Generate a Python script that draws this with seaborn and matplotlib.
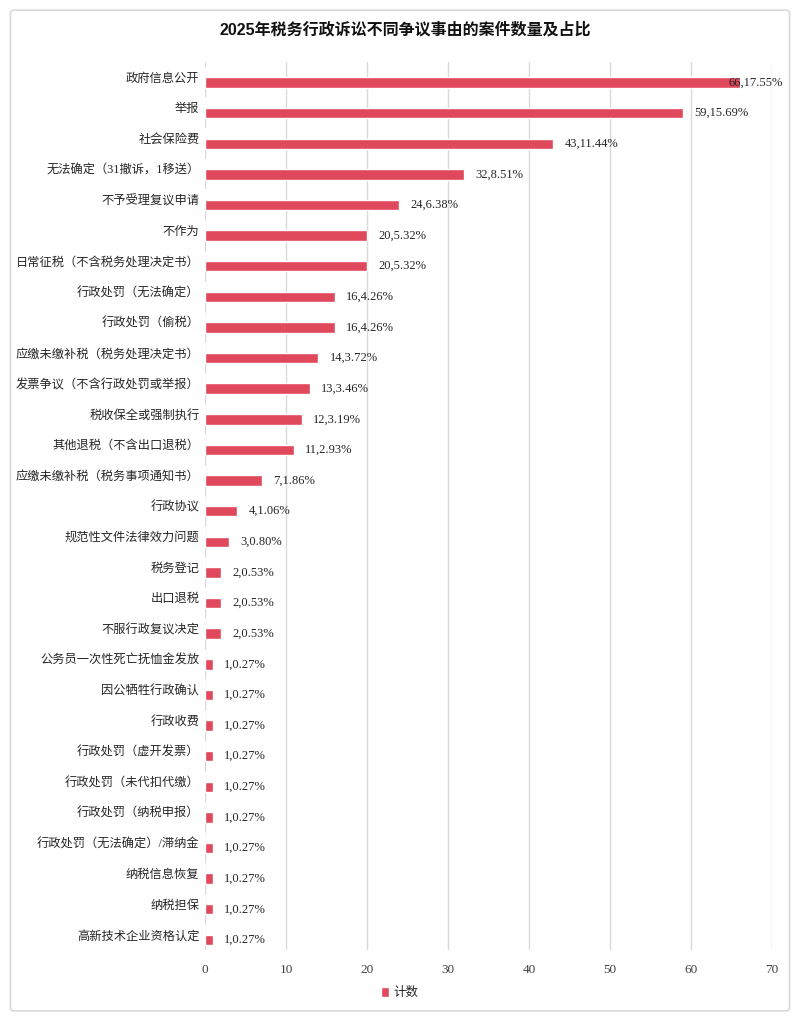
import matplotlib
matplotlib.use("Agg")
import matplotlib.pyplot as plt
from matplotlib.patches import FancyBboxPatch, Patch
import seaborn as sns
import pandas as pd

categories = [
    "政府信息公开", "举报", "社会保险费", "无法确定（31撤诉，1移送）", "不予受理复议申请",
    "不作为", "日常征税（不含税务处理决定书）", "行政处罚（无法确定）", "行政处罚（偷税）",
    "应缴未缴补税（税务处理决定书）", "发票争议（不含行政处罚或举报）", "税收保全或强制执行",
    "其他退税（不含出口退税）", "应缴未缴补税（税务事项通知书）", "行政协议",
    "规范性文件法律效力问题", "税务登记", "出口退税", "不服行政复议决定",
    "公务员一次性死亡抚恤金发放", "因公牺牲行政确认", "行政收费", "行政处罚（虚开发票）",
    "行政处罚（未代扣代缴）", "行政处罚（纳税申报）", "行政处罚（无法确定）/滞纳金",
    "纳税信息恢复", "纳税担保", "高新技术企业资格认定",
]
counts = [66, 59, 43, 32, 24, 20, 20, 16, 16, 14, 13, 12, 11, 7, 4, 3, 2, 2, 2,
          1, 1, 1, 1, 1, 1, 1, 1, 1, 1]
percents = [17.55, 15.69, 11.44, 8.51, 6.38, 5.32, 5.32, 4.26, 4.26, 3.72, 3.46, 3.19,
            2.93, 1.86, 1.06, 0.80, 0.53, 0.53, 0.53,
            0.27, 0.27, 0.27, 0.27, 0.27, 0.27, 0.27, 0.27, 0.27, 0.27]
xticks = [0, 10, 20, 30, 40, 50, 60, 70]

RED = "#E0485B"
TEAL = "#3FA7A7"

sns.set_theme(style="white")
plt.rcParams["font.family"] = ["Liberation Serif", "Noto Sans CJK SC", "DejaVu Sans"]

rows = []
for c, n, p in zip(categories, counts, percents):
    rows.append({"cat": c, "series": "占比", "value": p / 100})
    rows.append({"cat": c, "series": "计数", "value": n})
df = pd.DataFrame(rows)

fig = plt.figure(figsize=(8, 10.19), dpi=100)
border = FancyBboxPatch((0.013, 0.008), 0.974, 0.982, boxstyle="round,pad=0,rounding_size=0.004",
                        transform=fig.transFigure, facecolor="white", edgecolor="#d9d9d9",
                        linewidth=1.2, zorder=-10)
fig.patches.append(border)

ax = fig.add_axes([0.25625, 0.0677, 0.70875, 0.8715])
ax.set_facecolor("none")
sns.barplot(data=df, y="cat", x="value", hue="series", hue_order=["占比", "计数"],
            palette={"占比": TEAL, "计数": RED}, width=0.68, orient="h", ax=ax,
            legend=False, saturation=1, order=categories)

ax.set_xlim(0, 70)
ax.set_xticks(xticks)
ax.set_xticklabels([str(t) for t in xticks], fontsize=9.5, color="#404040")
ax.tick_params(axis="y", labelsize=8.8, colors="#262626", length=0, pad=4)
ax.tick_params(axis="x", length=0, pad=10)
ax.set_xlabel("")
ax.set_ylabel("")
ax.grid(axis="x", color="#d9d9d9", linewidth=1)
ax.grid(axis="y", visible=False)
ax.set_axisbelow(True)
for s in ax.spines.values():
    s.set_visible(False)

for i, (n, p) in enumerate(zip(counts, percents)):
    label = f"{n},{p:.2f}%"
    if n > 62:
        ax.annotate(label, xy=(70, i + 0.17), xytext=(8, 0), textcoords="offset points",
                    ha="right", va="center", fontsize=9, color="#262626")
    else:
        ax.annotate(label, xy=(n, i + 0.17), xytext=(8, 0), textcoords="offset points",
                    ha="left", va="center", fontsize=9, color="#262626")

fig.text(0.507, 1 - 30 / 1019, "2025年税务行政诉讼不同争议事由的案件数量及占比",
         ha="center", va="center", fontsize=11.5, fontweight="bold",
         family=["Liberation Sans", "Noto Sans CJK SC"], color="#111111")

fig.legend(handles=[Patch(facecolor=RED, label="计数")], loc="center",
           bbox_to_anchor=(0.5, 1 - 993 / 1019), frameon=False, fontsize=9,
           handlelength=0.6, handleheight=0.8, handletextpad=0.4)

fig.savefig("out.png", dpi=100)
